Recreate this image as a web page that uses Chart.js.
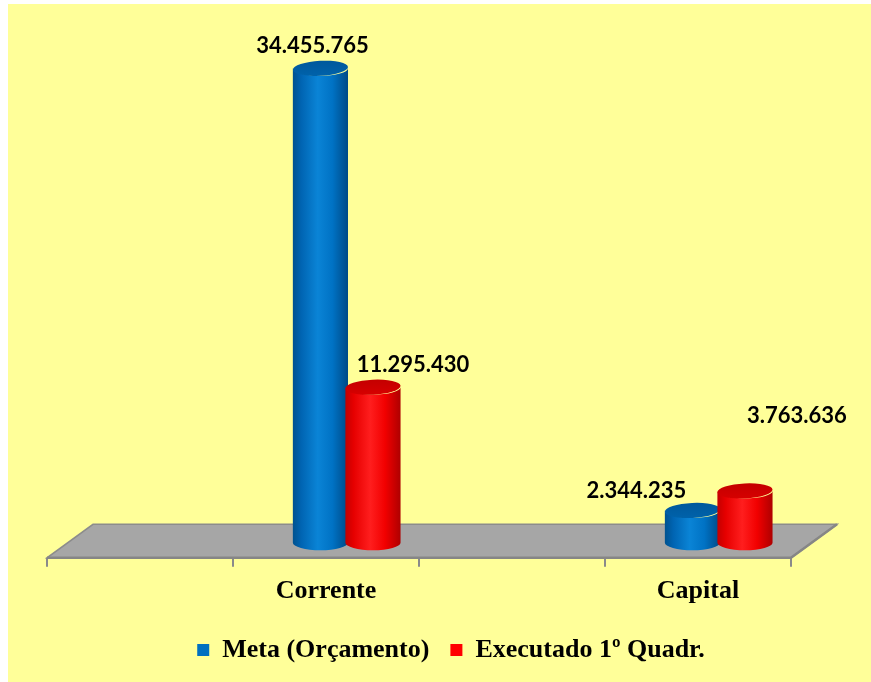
<!DOCTYPE html>
<html><head><meta charset="utf-8">
<script src="https://cdn.jsdelivr.net/npm/chart.js@4/dist/chart.umd.min.js"></script>
<style>html,body{margin:0;padding:0;background:#fff;}canvas{display:block;}</style>
</head><body>
<canvas id="c" width="871" height="682"></canvas>
<script>
// ---- data ----
const categories = ["Corrente", "Capital"];
const seriesNames = ["Meta (Orçamento)", "Executado 1º Quadr."];
const metaValues = [34455765, 2344235];
const executadoValues = [11295430, 3763636];

// axis slots: an empty slot precedes each category (as in the original 3D axis)
const slotLabels = [], metaSlots = [], execSlots = [];
categories.forEach((c, i) => {
  slotLabels.push("", c);
  metaSlots.push(null, metaValues[i]);
  execSlots.push(null, executadoValues[i]);
});

const fmt = v => String(v).replace(/\B(?=(\d{3})+(?!\d))/g, '.');

// styling
const DEPTH = { dx: 46, dy: -33.5, barPos: 0.45 };
const CYL = [
  { stops: ['#00528F', '#0064B2', '#0A84D6', '#0072C4', '#004A86'], cap: '#0062AA', capEdge: '#00589C' },
  { stops: ['#C40000', '#E60000', '#FF1E1E', '#F20000', '#AE0000'], cap: '#D60000', capEdge: '#C40000' }
];
// manual label placement (offset from cylinder top centre), per series, per slot
const LABEL_OFFSETS = [
  [null, [-8, -22], null, [-56, -20]],
  [null, [40, -22], null, [52, -75]]
];

const plugin3d = {
  id: 'plugin3d',
  beforeDraw(chart) {
    const { ctx, width, height } = chart;
    ctx.save();
    ctx.fillStyle = '#ffffff';
    ctx.fillRect(0, 0, width, height);
    ctx.fillStyle = '#FFFF99';
    ctx.fillRect(8, 4, width - 8, height - 4);
    ctx.restore();
  },
  beforeDatasetsDraw(chart) {
    const { ctx, chartArea: a } = chart;
    const { dx, dy } = DEPTH;
    ctx.save();
    ctx.beginPath();
    ctx.moveTo(a.left, a.bottom);
    ctx.lineTo(a.right, a.bottom);
    ctx.lineTo(a.right + dx, a.bottom + dy);
    ctx.lineTo(a.left + dx, a.bottom + dy);
    ctx.closePath();
    ctx.fillStyle = '#A6A6A6';
    ctx.fill();
    ctx.lineWidth = 1.5;
    ctx.strokeStyle = '#8C8C8C';
    ctx.stroke();
    ctx.beginPath();
    ctx.moveTo(a.left, a.bottom);
    ctx.lineTo(a.right, a.bottom);
    ctx.lineTo(a.right + dx, a.bottom + dy);
    ctx.lineWidth = 2.5;
    ctx.strokeStyle = '#868686';
    ctx.stroke();
    ctx.restore();
  },
  beforeDatasetDraw() { return false; },
  afterDatasetsDraw(chart) {
    const { ctx } = chart;
    const ox = DEPTH.dx * DEPTH.barPos, oy = DEPTH.dy * DEPTH.barPos;
    const nSlots = slotLabels.length;
    const tops = [];
    for (let s = 0; s < nSlots; s++) {
      chart.data.datasets.forEach((ds, di) => {
        const el = chart.getDatasetMeta(di).data[s];
        if (!el || ds.data[s] == null) return;
        const p = el.getProps(['x', 'y', 'base', 'width'], true);
        const cx = p.x + ox, top = p.y + oy, base = p.base + oy;
        const rx = p.width / 2 + 1.3, ry = 7.5;
        const c = CYL[di];
        ctx.save();
        const g = ctx.createLinearGradient(cx - rx, 0, cx + rx, 0);
        g.addColorStop(0, c.stops[0]);
        g.addColorStop(0.15, c.stops[1]);
        g.addColorStop(0.45, c.stops[2]);
        g.addColorStop(0.72, c.stops[3]);
        g.addColorStop(1, c.stops[4]);
        ctx.beginPath();
        ctx.moveTo(cx - rx, top);
        ctx.lineTo(cx - rx, base);
        ctx.ellipse(cx, base, rx, ry, 0, Math.PI, 0, true);
        ctx.lineTo(cx + rx, top);
        ctx.ellipse(cx, top, rx, ry, 0, 0, Math.PI, false);
        ctx.closePath();
        ctx.fillStyle = g;
        ctx.fill();
        const gc = ctx.createLinearGradient(0, top - ry, 0, top + ry);
        gc.addColorStop(0, c.capEdge);
        gc.addColorStop(1, c.cap);
        ctx.beginPath();
        ctx.ellipse(cx, top, rx, ry, -0.05, 0, Math.PI * 2);
        ctx.fillStyle = gc;
        ctx.fill();
        ctx.restore();
        tops.push({ di, s, cx, top, v: ds.data[s] });
      });
    }
    ctx.save();
    ctx.font = 'bold 22px Lato, "DejaVu Sans", sans-serif';
    ctx.fillStyle = '#000';
    ctx.textAlign = 'center';
    ctx.textBaseline = 'middle';
    tops.forEach(t => {
      const off = LABEL_OFFSETS[t.di][t.s] || [0, -20];
      ctx.fillText(fmt(t.v), t.cx + off[0], t.top + off[1]);
    });
    ctx.restore();
  }
};

const serif = 'Liberation Serif, "Times New Roman", serif';

new Chart(document.getElementById('c'), {
  type: 'bar',
  data: {
    labels: slotLabels,
    datasets: [
      { label: seriesNames[0], data: metaSlots, backgroundColor: '#0070C0', borderWidth: 0, skipNull: true },
      { label: seriesNames[1], data: execSlots, backgroundColor: '#FF0000', borderWidth: 0, skipNull: true }
    ]
  },
  options: {
    responsive: false,
    animation: false,
    devicePixelRatio: 1,
    layout: { padding: { left: 31, right: 0, top: 7, bottom: 9 } },
    datasets: { bar: { categoryPercentage: 0.565, barPercentage: 1.0 } },
    plugins: {
      legend: {
        position: 'bottom',
        labels: {
          font: { family: serif, size: 26, weight: 'bold' },
          color: '#000',
          boxWidth: 12, boxHeight: 12,
          padding: 21
        }
      },
      tooltip: { enabled: false }
    },
    scales: {
      x: {
        type: 'category',
        offset: true,
        grid: { offset: true, drawOnChartArea: false, drawTicks: true, tickLength: 9, color: '#8A8A8A', lineWidth: 2 },
        border: { display: false },
        ticks: { font: { family: serif, size: 26, weight: 'bold' }, color: '#000', padding: 9, autoSkip: false, maxRotation: 0 }
      },
      y: {
        min: 0, max: 40000000,
        ticks: { display: false },
        grid: { display: false },
        border: { display: false },
        afterFit(s) { s.width = 16; }
      },
      yR: {
        position: 'right', min: 0, max: 1,
        ticks: { display: false },
        grid: { display: false },
        border: { display: false },
        afterFit(s) { s.width = 80; }
      }
    }
  },
  plugins: [plugin3d]
});
</script>
</body></html>
